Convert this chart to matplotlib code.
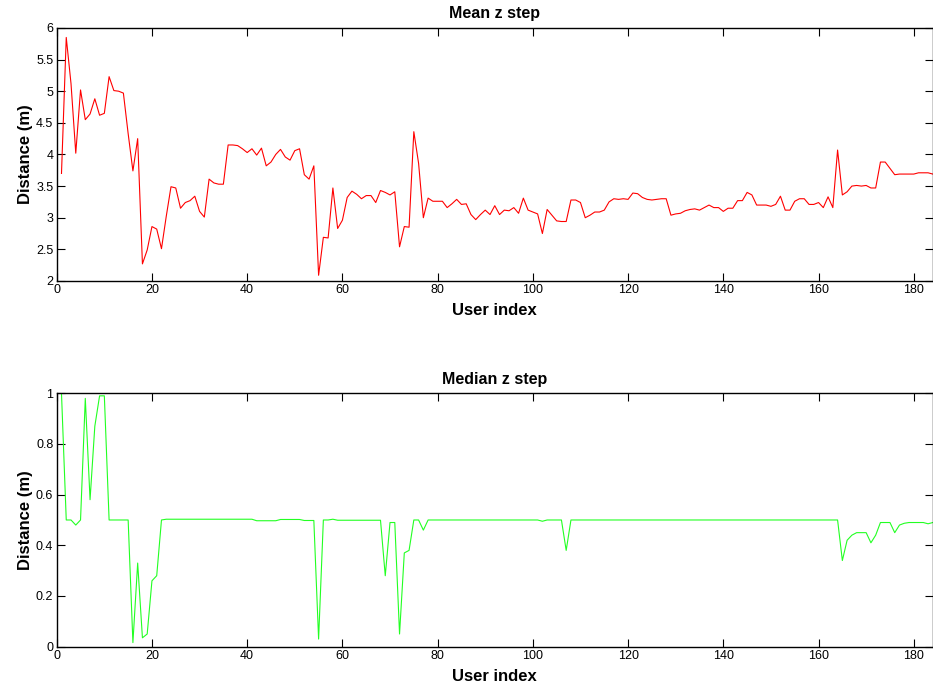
import numpy as np
import matplotlib
matplotlib.use('Agg')
import matplotlib.pyplot as plt

plt.rcParams['font.family'] = ['Liberation Sans', 'DejaVu Sans']

# mean z step per user (index 1..184)
mean_z = [
    3.70, 5.85, 5.12, 4.02, 5.02, 4.55, 4.64, 4.88, 4.62, 4.65,
    5.23, 5.01, 5.00, 4.97, 4.33, 3.74, 4.25, 2.27, 2.49, 2.86,
    2.82, 2.51, 3.02, 3.49, 3.47, 3.15, 3.24, 3.27, 3.34, 3.10,
    3.01, 3.61, 3.55, 3.53, 3.53, 4.15, 4.15, 4.14, 4.09, 4.03,
    4.09, 3.99, 4.10, 3.82, 3.88, 4.00, 4.08, 3.96, 3.91, 4.06,
    4.09, 3.68, 3.61, 3.82, 2.09, 2.69, 2.68, 3.47, 2.83, 2.96,
    3.32, 3.42, 3.37, 3.30, 3.35, 3.35, 3.24, 3.43, 3.40, 3.36,
    3.41, 2.54, 2.86, 2.85, 4.36, 3.86, 3.00, 3.31, 3.26, 3.26,
    3.26, 3.16, 3.22, 3.29, 3.21, 3.22, 3.05, 2.97, 3.05, 3.12,
    3.05, 3.19, 3.05, 3.12, 3.11, 3.16, 3.07, 3.31, 3.12, 3.09,
    3.06, 2.75, 3.13, 3.04, 2.95, 2.94, 2.94, 3.28, 3.28, 3.24,
    3.00, 3.04, 3.09, 3.09, 3.12, 3.25, 3.30, 3.29, 3.30, 3.29,
    3.39, 3.38, 3.32, 3.29, 3.28, 3.29, 3.30, 3.30, 3.04, 3.06,
    3.07, 3.11, 3.13, 3.14, 3.12, 3.16, 3.20, 3.16, 3.16, 3.10,
    3.15, 3.15, 3.27, 3.27, 3.40, 3.36, 3.20, 3.20, 3.20, 3.18,
    3.21, 3.34, 3.12, 3.12, 3.26, 3.30, 3.30, 3.21, 3.21, 3.24,
    3.16, 3.33, 3.16, 4.07, 3.36, 3.41, 3.50, 3.51, 3.50, 3.51,
    3.47, 3.47, 3.88, 3.88, 3.78, 3.68, 3.69, 3.69, 3.69, 3.69,
    3.71, 3.71, 3.71, 3.69,
]

# median z step per user (index 1..184)
median_z = [
    1.00, 0.50, 0.50, 0.48, 0.50, 0.98, 0.58, 0.87, 0.99, 0.99,
    0.50, 0.50, 0.50, 0.50, 0.50, 0.016, 0.33, 0.035, 0.05, 0.26,
    0.28, 0.50, 0.503, 0.503, 0.503, 0.503, 0.503, 0.503, 0.503, 0.503,
    0.503, 0.503, 0.503, 0.503, 0.503, 0.503, 0.503, 0.503, 0.503, 0.503,
    0.503, 0.497, 0.497, 0.497, 0.497, 0.497, 0.502, 0.502, 0.502, 0.502,
    0.502, 0.498, 0.498, 0.498, 0.03, 0.50, 0.50, 0.503, 0.499, 0.499,
    0.499, 0.499, 0.499, 0.499, 0.499, 0.499, 0.499, 0.499, 0.28, 0.49,
    0.49, 0.05, 0.37, 0.38, 0.50, 0.50, 0.46, 0.50, 0.50, 0.50,
    0.50, 0.50, 0.50, 0.50, 0.50, 0.50, 0.50, 0.50, 0.50, 0.50,
    0.50, 0.50, 0.50, 0.50, 0.50, 0.50, 0.50, 0.50, 0.50, 0.50,
    0.50, 0.495, 0.50, 0.50, 0.50, 0.50, 0.38, 0.50, 0.50, 0.50,
    0.50, 0.50, 0.50, 0.50, 0.50, 0.50, 0.50, 0.50, 0.50, 0.50,
    0.50, 0.50, 0.50, 0.50, 0.50, 0.50, 0.50, 0.50, 0.50, 0.50,
    0.50, 0.50, 0.50, 0.50, 0.50, 0.50, 0.50, 0.50, 0.50, 0.50,
    0.50, 0.50, 0.50, 0.50, 0.50, 0.50, 0.50, 0.50, 0.50, 0.50,
    0.50, 0.50, 0.50, 0.50, 0.50, 0.50, 0.50, 0.50, 0.50, 0.50,
    0.50, 0.50, 0.50, 0.50, 0.34, 0.42, 0.44, 0.45, 0.45, 0.45,
    0.41, 0.44, 0.49, 0.49, 0.49, 0.45, 0.48, 0.487, 0.49, 0.49,
    0.49, 0.49, 0.485, 0.49,
]

user_idx = np.arange(1, len(mean_z) + 1)
x_ticks = [0, 20, 40, 60, 80, 100, 120, 140, 160, 180]


def style_axes(ax):
    ax.tick_params(direction='in', top=True, right=True, length=6, width=0.8,
                   labelsize=9, pad=2.5)
    for s in ax.spines.values():
        s.set_linewidth(1.0)
    ax.set_xlim(0, 184)
    ax.set_xticks(x_ticks)
    ax.set_xlabel('User index', fontsize=12, fontweight='bold', labelpad=5)
    ax.set_ylabel('Distance (m)', fontsize=12, fontweight='bold', labelpad=2)


fig = plt.figure(figsize=(9.33, 6.9), dpi=100)

ax1 = fig.add_axes([0.0608, 0.5928, 0.939, 0.3667])
ax1.plot(user_idx, mean_z, color='#ff0000', lw=0.8)
ax1.set_ylim(2, 6)
ax1.set_yticks([2, 2.5, 3, 3.5, 4, 4.5, 5, 5.5, 6])
ax1.set_yticklabels(['2', '2.5', '3', '3.5', '4', '4.5', '5', '5.5', '6'])
ax1.set_title('Mean z step', fontsize=11.5, fontweight='bold', pad=7)
style_axes(ax1)

ax2 = fig.add_axes([0.0608, 0.0628, 0.939, 0.3672])
ax2.plot(user_idx, median_z, color='#22ff22', lw=0.8)
ax2.set_ylim(0, 1)
ax2.set_yticks([0, 0.2, 0.4, 0.6, 0.8, 1])
ax2.set_yticklabels(['0', '0.2', '0.4', '0.6', '0.8', '1'])
ax2.set_title('Median z step', fontsize=11.5, fontweight='bold', pad=7)
style_axes(ax2)

fig.savefig('out.png', dpi=100)
